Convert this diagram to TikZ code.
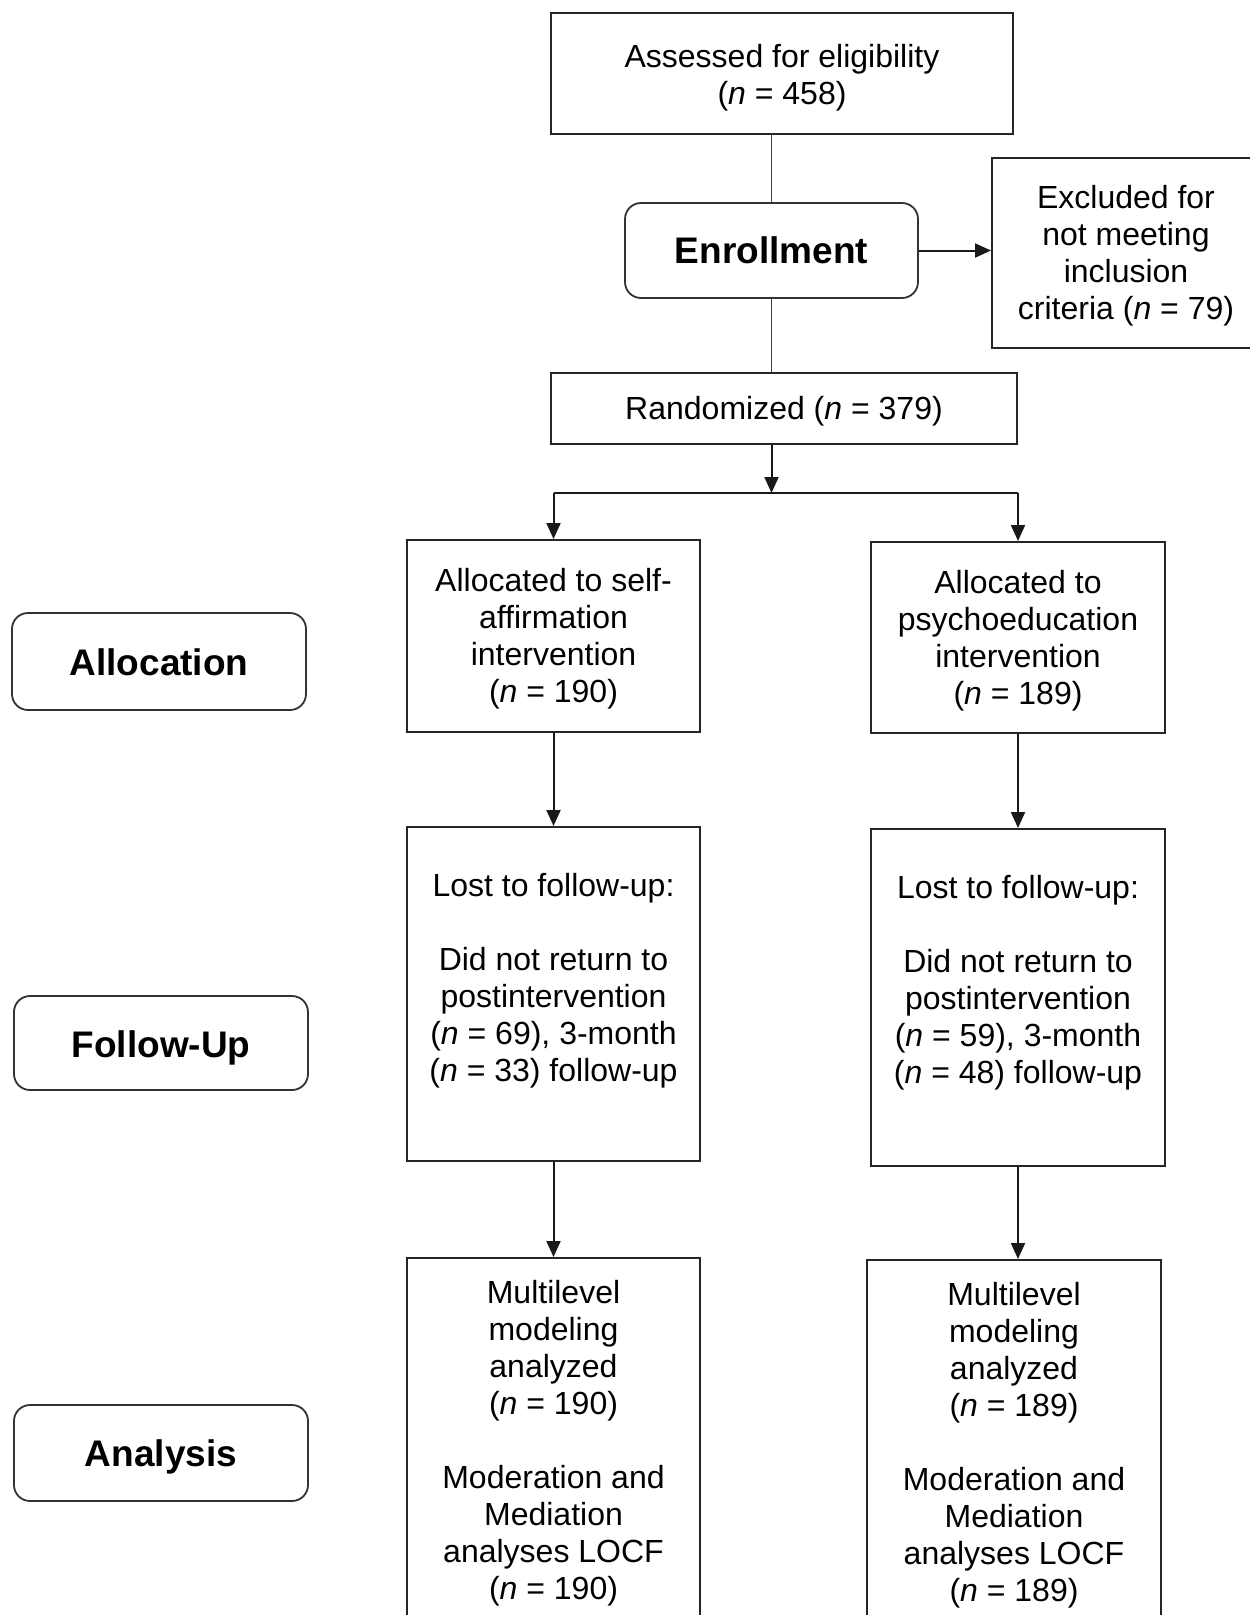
\documentclass[tikz,border=0pt]{standalone}
\usepackage{fontspec}
\setmainfont{Liberation Sans}
\usetikzlibrary{arrows.meta}
\begin{document}
\begin{tikzpicture}[x=1pt,y=-1pt,
  box/.style={draw=black!85, line width=2pt, rectangle, inner sep=0pt},
  txt/.style={align=center, inner sep=0pt, font=\fontsize{32}{37}\selectfont},
  stage/.style={draw=black!80, line width=1.8pt, rounded corners=16pt,
    minimum width=294pt, inner sep=0pt},
  stagetxt/.style={inner sep=0pt, font=\fontsize{37}{42}\selectfont\bfseries},
  flow/.style={line width=2pt, draw=black!90, -{Triangle[length=16pt,width=14pt]}},
  branch/.style={line width=2pt, draw=black!90},
  link/.style={line width=1.5pt, draw=black!75}]
\useasboundingbox (0,0) rectangle (1250,1615);
\clip (0,0) rectangle (1250,1615);

% top of the chart
\node[box, minimum width=462pt, minimum height=121pt] (assess) at (782,73.5) {};
\node[txt] (assesstext) at ([yshift=-4pt]assess.center)
  {Assessed for eligibility\\(\textit{n} = 458)};
\node[stage, minimum width=293pt, minimum height=95pt] (enroll) at (771.5,250.5) {};
\node[stagetxt] (enrolltext) at (enroll.center) {Enrollment};
\node[box, minimum width=268pt, minimum height=190pt] (excl) at (1126,253) {};
\node[txt] (excltext) at ([yshift=-3pt]excl.center)
  {Excluded for\\not meeting\\inclusion\\criteria (\textit{n} = 79)};
\node[box, minimum width=466pt, minimum height=71pt] (rand) at (784,408.5) {};
\node[txt] (randtext) at ([yshift=-3pt]rand.center) {Randomized (\textit{n} = 379)};

% allocation
\node[box, minimum width=293pt, minimum height=192pt] (allocA) at (553.5,636) {};
\node[txt] (allocAtext) at ([yshift=-3pt]allocA.center)
  {Allocated to self-\\affirmation\\intervention\\(\textit{n} = 190)};
\node[box, minimum width=294pt, minimum height=191pt] (allocB) at (1018,637.5) {};
\node[txt] (allocBtext) at ([yshift=-3pt]allocB.center)
  {Allocated to\\psychoeducation\\intervention\\(\textit{n} = 189)};

% follow-up
\node[box, minimum width=293pt, minimum height=334pt] (lostA) at (553.5,994) {};
\node[txt] (lostAtext) at (553.5,981)
  {Lost to follow-up:\\[37pt]Did not return to\\postintervention\\(\textit{n} = 69), 3-month\\(\textit{n} = 33) follow-up};
\node[box, minimum width=294pt, minimum height=337pt] (lostB) at (1018,997.5) {};
\node[txt] (lostBtext) at (1018,983)
  {Lost to follow-up:\\[37pt]Did not return to\\postintervention\\(\textit{n} = 59), 3-month\\(\textit{n} = 48) follow-up};

% analysis (boxes run past the lower edge)
\node[box, minimum width=293pt, minimum height=362pt] (anaA) at (553.5,1439) {};
\node[txt] (anaAtext) at ([yshift=-4pt]anaA.center)
  {Multilevel\\modeling\\analyzed\\(\textit{n} = 190)\\[37pt]Moderation and\\Mediation\\analyses LOCF\\(\textit{n} = 190)};
\node[box, minimum width=294pt, minimum height=363pt] (anaB) at (1014,1441.5) {};
\node[txt] (anaBtext) at ([yshift=-4pt]anaB.center)
  {Multilevel\\modeling\\analyzed\\(\textit{n} = 189)\\[37pt]Moderation and\\Mediation\\analyses LOCF\\(\textit{n} = 189)};

% stage labels on the left
\node[stage, minimum height=97pt] (stAlloc) at (159,661.5) {};
\node[stagetxt] (stAlloctext) at ([yshift=-1pt]stAlloc.center) {Allocation};
\node[stage, minimum height=94pt] (stFollow) at (161,1043) {};
\node[stagetxt] (stFollowtext) at ([yshift=-5pt]stFollow.center) {Follow-Up};
\node[stage, minimum height=96pt] (stAna) at (161,1453) {};
\node[stagetxt] (stAnatext) at ([yshift=-4pt]stAna.center) {Analysis};

% connectors
\draw[link] (assess.south -| enroll.north) -- (enroll.north);
\draw[link] (enroll.south) -- (rand.north -| enroll.south);
\draw[flow] (enroll.east) -- (excl.west |- enroll.east);
\coordinate (split) at (771.5,493);
\draw[flow] (rand.south -| split) -- (split);
\draw[branch] (allocA.north |- split) -- (allocB.north |- split);
\draw[flow] (allocA.north |- split) -- (allocA.north);
\draw[flow] (allocB.north |- split) -- (allocB.north);
\draw[flow] (allocA.south) -- (lostA.north);
\draw[flow] (allocB.south) -- (lostB.north);
\draw[flow] (lostA.south) -- (anaA.north);
\draw[flow] (lostB.south) -- (lostB.south |- anaB.north);
\end{tikzpicture}
\end{document}
